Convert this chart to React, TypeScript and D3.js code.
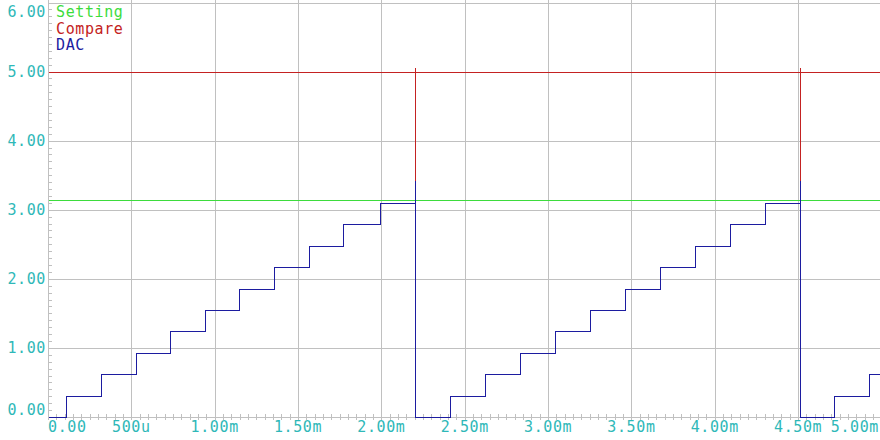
import React from "react";
import * as d3 from "d3";

const xTickValues = [0, 0.5, 1, 1.5, 2, 2.5, 3, 3.5, 4, 4.5, 5];
const xTickLabels = ["0.00", "500u", "1.00m", "1.50m", "2.00m", "2.50m", "3.00m", "3.50m", "4.00m", "4.50m", "5.00m"];
const yTickValues = [0, 1, 2, 3, 4, 5, 6];
const yTickLabels = ["0.00", "1.00", "2.00", "3.00", "4.00", "5.00", "6.00"];

const seriesNames = ["Setting", "Compare", "DAC"];
const seriesColors = ["#3ddc3d", "#c42222", "#1c1ca0"];

// time in ms, value in V
const settingT = [0, 5];
const settingV = [3.14, 3.14];

const compareT = [0, 2.2, 2.2, 2.2, 2.2, 4.51, 4.51, 4.51, 4.51, 5];
const compareV = [5, 5, 5.07, 0, 5, 5, 5.07, 0, 5, 5];

const dacT = [0, 0.11, 0.318, 0.525, 0.733, 0.94, 1.148, 1.355, 1.563, 1.77, 1.99, 2.2, 2.2,
  2.41, 2.62, 2.83, 3.04, 3.25, 3.46, 3.67, 3.88, 4.09, 4.3, 4.51, 4.51, 4.715, 4.925, 5];
const dacV = [0, 0.31, 0.62, 0.93, 1.24, 1.55, 1.86, 2.17, 2.48, 2.79, 3.1, 3.43, 0,
  0.31, 0.62, 0.93, 1.24, 1.55, 1.86, 2.17, 2.48, 2.79, 3.1, 3.43, 0, 0.31, 0.62, 0.62];

const W = 880;
const H = 440;
const left = 48;
const bottom = 417;

export default function App() {
  const x = d3.scaleLinear().domain([0, 5]).range([left, 881.5]);
  const y = d3.scaleLinear().domain([0, 6]).range([bottom, 2.5]);

  const px = (v: number) => Math.round(v) + 0.5;

  const line = d3
    .line<[number, number]>()
    .x((d) => px(x(d[0])))
    .y((d) => px(y(d[1])))
    .curve(d3.curveStepAfter);

  const zip = (t: number[], v: number[]) => t.map((tt, i) => [tt, v[i]] as [number, number]);
  const series = [zip(settingT, settingV), zip(compareT, compareV), zip(dacT, dacV)];

  const font = "'DejaVu Sans Mono', monospace";
  const labelColor = "#2fb8b8";
  const grid = "#c0c0c0";

  const xMinor = d3.range(0, 101).map((i) => i * 0.05);
  const yMinor = d3.range(0, 61).map((i) => i * 0.1);

  return (
    <svg
      width={W}
      height={H}
      style={{ position: "absolute", left: 0, top: 0, display: "block", background: "#fff" }}
    >
      <defs>
        <clipPath id="plot">
          <rect x={left} y={0} width={W - left} height={bottom + 2} />
        </clipPath>
      </defs>
      {/* grid */}
      <g shapeRendering="crispEdges" stroke={grid} strokeWidth={1}>
        {xTickValues.map((v, i) => (
          <line key={"gx" + i} x1={px(x(v))} x2={px(x(v))} y1={0} y2={bottom} />
        ))}
        {yTickValues.map((v, i) => (
          <line key={"gy" + i} x1={left} x2={W} y1={px(y(v))} y2={px(y(v))} />
        ))}
        <line x1={left + 0.5} x2={left + 0.5} y1={0} y2={bottom + 1} />
        {yMinor.map((v, i) => (
          <line key={"my" + i} x1={left} x2={left + 4} y1={px(y(v))} y2={px(y(v))} />
        ))}
        {xMinor.map((v, i) => (
          <line key={"mx" + i} x1={px(x(v))} x2={px(x(v))} y1={bottom - 3} y2={bottom + 3} />
        ))}
      </g>
      {/* series */}
      <g clipPath="url(#plot)" fill="none" strokeWidth={1} shapeRendering="crispEdges">
        {series.map((s, i) => (
          <path key={i} d={line(s) || ""} stroke={seriesColors[i]} />
        ))}
      </g>
      {/* labels */}
      <g fontFamily={font} fontSize={15} fill={labelColor} letterSpacing={0.6}>
        {yTickValues.map((v, i) => {
          const yy = Math.min(Math.max(y(v), 12), 410);
          return (
            <text key={"yl" + i} x={46} y={yy} dy="0.36em" textAnchor="end">
              {yTickLabels[i]}
            </text>
          );
        })}
        {xTickValues.map((v, i) => {
          let anchor = "middle";
          let xx = x(v);
          if (i === 0) {
            anchor = "start";
            xx = left;
          } else if (i === xTickValues.length - 1) {
            anchor = "end";
            xx = W - 1;
          }
          return (
            <text key={"xl" + i} x={xx} y={427} dy="0.36em" textAnchor={anchor}>
              {xTickLabels[i]}
            </text>
          );
        })}
      </g>
      {/* legend */}
      <g fontFamily={font} fontSize={15} letterSpacing={0.6}>
        {seriesNames.map((n, i) => (
          <text key={n} x={56} y={12 + i * 16.5} dy="0.36em" fill={seriesColors[i]}>
            {n}
          </text>
        ))}
      </g>
    </svg>
  );
}
